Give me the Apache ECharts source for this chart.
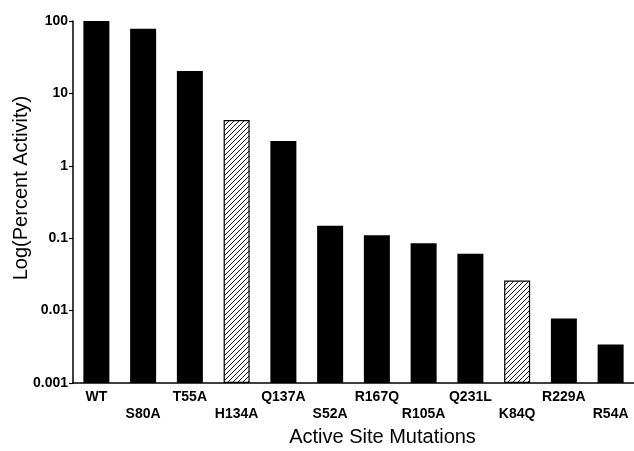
<!DOCTYPE html>
<html>
<head>
<meta charset="utf-8">
<script src="https://cdn.jsdelivr.net/npm/echarts@6/dist/echarts.min.js"></script>
<style>html,body{margin:0;padding:0;background:#fff;}#chart{width:634px;height:451px;}</style>
</head>
<body>
<div id="chart"></div>
<script>
const categories = ['WT','S80A','T55A','H134A','Q137A','S52A','R167Q','R105A','Q231L','K84Q','R229A','R54A'];
const percentActivity = [100, 78, 20.4, 4.3, 2.2, 0.148, 0.11, 0.085, 0.061, 0.026, 0.0078, 0.0034];
const hatched = [false, false, false, true, false, false, false, false, false, true, false, false];
const yTickLabels = ['0.001','0.01','0.1','1','10','100'];
const axisFloor = 0.001;

const c = document.createElement('canvas');
c.width = 5; c.height = 5;
const g = c.getContext('2d');
g.fillStyle = '#fff'; g.fillRect(0,0,5,5);
g.strokeStyle = '#000'; g.lineWidth = 0.9;
g.beginPath();
g.moveTo(-1,1); g.lineTo(1,-1);
g.moveTo(0,5); g.lineTo(5,0);
g.moveTo(4,6); g.lineTo(6,4);
g.stroke();

// decades above the axis floor (log10 scale)
const data = percentActivity.map((v, i) => ({
  value: Math.log10(v / axisFloor),
  itemStyle: hatched[i]
    ? { color: { image: c, repeat: 'repeat' }, borderColor: '#000', borderWidth: 1.2 }
    : { color: '#000' }
}));

const chart = echarts.init(document.getElementById('chart'), null, { renderer: 'canvas' });
chart.setOption({
  animation: false,
  backgroundColor: '#fff',
  grid: { left: 73, right: 0, top: 21, bottom: 68, containLabel: false, outerBoundsMode: 'none' },
  xAxis: {
    type: 'category',
    data: categories,
    name: 'Active Site Mutations',
    nameLocation: 'middle',
    nameGap: 44,
    nameMoveOverlap: false,
    nameTextStyle: { fontFamily: 'Liberation Sans', fontSize: 20, color: '#000', padding: [0, 0, 0, 58] },
    axisLine: { onZero: false, lineStyle: { color: '#000', width: 1.5 } },
    axisTick: { inside: true, length: 5, lineStyle: { color: '#000', width: 1.2 } },
    axisLabel: {
      interval: 0,
      margin: 6,
      fontFamily: 'Liberation Sans', fontWeight: 'bold', fontSize: 14, color: '#000',
      lineHeight: 17,
      formatter: (v, i) => (i % 2 === 1 ? '\n' + v : v)
    }
  },
  yAxis: {
    type: 'value',
    min: 0, max: 5, interval: 1,
    name: 'Log(Percent Activity)',
    nameLocation: 'middle',
    nameGap: 42,
    nameMoveOverlap: false,
    nameTextStyle: { fontFamily: 'Liberation Sans', fontSize: 20, color: '#000', padding: [0, 0, 0, 28] },
    axisLine: { show: true, lineStyle: { color: '#000', width: 1.5 } },
    axisTick: { show: true, length: 4, lineStyle: { color: '#000', width: 1.2 } },
    splitLine: { show: false },
    axisLabel: {
      margin: 5,
      fontFamily: 'Liberation Sans', fontWeight: 'bold', fontSize: 14, color: '#000',
      formatter: v => yTickLabels[Math.round(v)]
    }
  },
  series: [{
    type: 'bar',
    data: data,
    barWidth: 26
  }]
});
</script>
</body>
</html>
